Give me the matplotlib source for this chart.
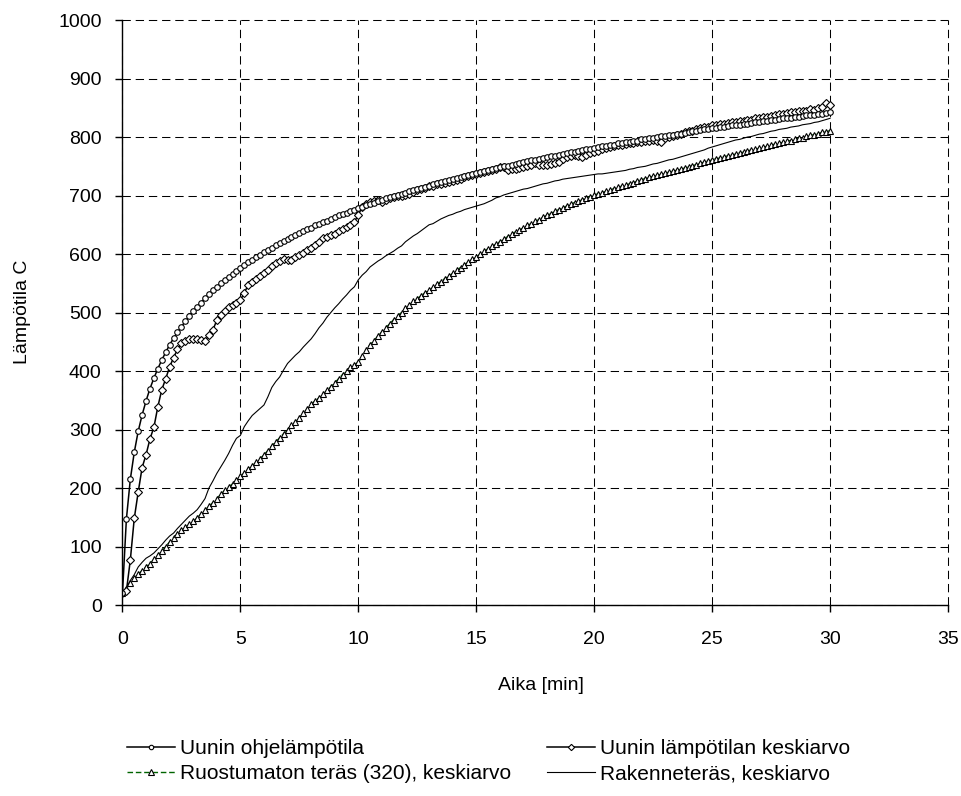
import matplotlib
matplotlib.use('Agg')
import matplotlib.pyplot as plt
import numpy as np

plt.rcParams['font.family'] = ['Liberation Sans', 'DejaVu Sans']
plt.rcParams['font.size'] = 14
plt.rcParams['lines.scale_dashes'] = False

# Mittaukset 10 s välein, 0 ... 30 min (rivi = 1 min)
ohje = [
    20, 147, 215, 261, 297, 325,
    349, 370, 388, 404, 419, 432,
    445, 456, 466, 476, 485, 494,
    502, 510, 517, 525, 531, 538,
    544, 550, 556, 561, 566, 571,
    576, 581, 586, 590, 595, 599,
    603, 607, 611, 615, 619, 622,
    626, 629, 633, 636, 639, 642,
    645, 649, 651, 654, 657, 660,
    663, 666, 668, 671, 673, 676,
    678, 681, 683, 686, 688, 690,
    693, 695, 697, 699, 701, 703,
    705, 707, 709, 711, 713, 715,
    717, 719, 721, 723, 725, 727,
    728, 730, 732, 734, 735, 737,
    739, 740, 742, 743, 745, 747,
    748, 750, 751, 753, 754, 756,
    757, 759, 760, 761, 763, 764,
    766, 767, 768, 770, 771, 772,
    774, 775, 776, 778, 779, 780,
    781, 783, 784, 785, 786, 787,
    789, 790, 791, 792, 793, 794,
    796, 797, 798, 799, 800, 801,
    802, 803, 804, 805, 806, 807,
    809, 810, 811, 812, 813, 814,
    815, 816, 817, 818, 819, 820,
    820, 821, 822, 823, 824, 825,
    826, 827, 828, 829, 830, 831,
    832, 832, 833, 834, 835, 836,
    837, 838, 838, 839, 840, 841,
    842,
]

uuni_ka = [
    20, 24, 77, 148, 193, 235,
    257, 284, 304, 339, 368, 387,
    407, 423, 437, 448, 452, 454,
    455, 454, 453, 452, 461, 470,
    487, 496, 503, 510, 513, 517,
    521, 534, 547, 552, 557, 562,
    567, 573, 579, 584, 588, 591,
    590, 590, 595, 598, 602, 607,
    611, 616, 621, 627, 630, 633,
    635, 639, 643, 647, 650, 655,
    667, 681, 685, 689, 691, 692,
    689, 692, 695, 697, 699, 700,
    701, 703, 706, 709, 711, 713,
    716, 717, 719, 720, 721, 723,
    725, 726, 728, 731, 733, 735,
    737, 738, 740, 742, 744, 746,
    748, 749, 744, 745, 746, 747,
    749, 751, 753, 755, 753, 752,
    752, 754, 755, 758, 762, 766,
    767, 769, 768, 766, 770, 773,
    775, 777, 779, 781, 783, 785,
    786, 787, 788, 789, 790, 791,
    792, 793, 794, 795, 793, 792,
    798, 800, 802, 804, 806, 808,
    810, 811, 813, 815, 817, 818,
    820, 821, 822, 823, 824, 825,
    826, 827, 828, 829, 830, 832,
    833, 834, 835, 836, 837, 839,
    840, 841, 842, 843, 844, 844,
    845, 848, 846, 849, 852, 858,
    855,
]

ruostumaton = [
    20, 28, 37, 46, 53, 59,
    65, 71, 78, 85, 92, 100,
    108, 115, 122, 128, 133, 138,
    143, 149, 156, 162, 169, 175,
    182, 189, 196, 202, 207, 213,
    220, 226, 232, 238, 244, 250,
    257, 264, 272, 279, 286, 293,
    300, 307, 313, 320, 328, 335,
    343, 349, 354, 360, 367, 373,
    380, 387, 394, 400, 407, 411,
    415, 425, 436, 445, 452, 460,
    467, 474, 481, 488, 494, 500,
    507, 513, 519, 524, 529, 534,
    538, 543, 548, 553, 558, 562,
    567, 572, 577, 582, 586, 591,
    595, 600, 605, 609, 613, 617,
    621, 625, 630, 634, 638, 641,
    645, 649, 652, 656, 659, 663,
    666, 669, 673, 676, 679, 682,
    685, 688, 690, 693, 696, 698,
    701, 703, 705, 707, 709, 712,
    714, 716, 718, 720, 722, 725,
    727, 729, 731, 733, 735, 736,
    738, 740, 742, 743, 745, 747,
    749, 751, 753, 755, 757, 759,
    761, 763, 764, 766, 768, 769,
    771, 773, 774, 776, 778, 779,
    781, 783, 784, 786, 788, 789,
    791, 793, 794, 796, 798, 799,
    801, 803, 804, 806, 808, 809,
    811,
]

rakenne = [
    20, 30, 42, 52, 65, 73,
    80, 84, 89, 96, 103, 111,
    118, 123, 131, 138, 145, 152,
    157, 163, 172, 182, 200, 212,
    225, 236, 247, 259, 273, 285,
    290, 305, 315, 324, 330, 336,
    342, 356, 372, 382, 390, 402,
    413, 420, 427, 433, 441, 448,
    455, 464, 474, 482, 492, 500,
    508, 515, 523, 530, 538, 544,
    556, 564, 570, 578, 583, 588,
    592, 597, 601, 605, 610, 614,
    621, 626, 631, 635, 640, 645,
    650, 652, 656, 660, 663, 666,
    668, 671, 673, 676, 678, 680,
    682, 684, 686, 689, 692, 696,
    698, 701, 703, 705, 707, 709,
    711, 712, 714, 716, 718, 720,
    721, 723, 725, 726, 728, 729,
    730, 731, 732, 733, 734, 735,
    736, 737, 737, 738, 739, 740,
    741, 742, 743, 745, 746, 748,
    749, 750, 752, 754, 755, 757,
    759, 761, 762, 764, 766, 768,
    770, 772, 774, 776, 778, 781,
    783, 785, 787, 789, 791, 793,
    795, 796, 798, 800, 801, 803,
    805, 806, 808, 810, 811, 813,
    814, 815, 817, 818, 819, 821,
    822, 823, 825, 826, 828, 830,
    832,
]

aika = np.arange(len(ohje)) * 10 / 60  # min

fig = plt.figure(figsize=(9.62, 7.96), dpi=100)
ax = fig.add_axes([0.1273, 0.2399, 0.8581, 0.7349])

merkki = dict(mfc='white', mec='black', mew=0.8)
l_rak, = ax.plot(aika, rakenne, color='black', lw=0.8,
                 label='Rakenneteräs, keskiarvo')
l_ruo, = ax.plot(aika, ruostumaton, color='#006400', lw=1.0,
                 ls=(0, (4, 2)), marker='^', ms=5, **merkki,
                 label='Ruostumaton teräs (320), keskiarvo')
l_ka, = ax.plot(aika, uuni_ka, color='black', lw=1.1, marker='D', ms=4,
                **merkki, label='Uunin lämpötilan keskiarvo')
l_ohje, = ax.plot(aika, ohje, color='black', lw=1.1, marker='o', ms=4,
                  **merkki, label='Uunin ohjelämpötila')

ax.set_xlim(0, 35)
ax.set_ylim(0, 1000)
ax.set_xticks(range(0, 36, 5))
ax.set_yticks(range(0, 1001, 100))
ax.tick_params(direction='out', length=5, width=1, colors='black')
ax.tick_params(axis='x', pad=14)
ax.tick_params(axis='y', pad=10)
for side in ('top', 'right'):
    ax.spines[side].set_visible(False)
for side in ('left', 'bottom'):
    ax.spines[side].set_linewidth(1.0)

ax.grid(True, color='black', lw=0.75, ls=(0, (6, 3.5)))
for gl in ax.get_xgridlines() + ax.get_ygridlines():
    gl.set_clip_on(False)
ax.set_axisbelow(True)

fig.text(23 / 962, 1 - 312 / 796, 'Lämpötila C', rotation=90,
         ha='center', va='center')
fig.text(541 / 962, 1 - 686 / 796, 'Aika [min]', ha='center', va='center')

fig.legend([l_ohje, l_ruo, l_ka, l_rak],
           [h.get_label() for h in (l_ohje, l_ruo, l_ka, l_rak)],
           ncol=2, loc='upper left', bbox_to_anchor=(127 / 962, 1 - 739 / 796),
           frameon=False, borderpad=0, borderaxespad=0, numpoints=1,
           fontsize=15, handlelength=2.3, handletextpad=0.25,
           columnspacing=1.7, labelspacing=0.3, markerscale=0.8)

fig.savefig('out.png', dpi=100)
